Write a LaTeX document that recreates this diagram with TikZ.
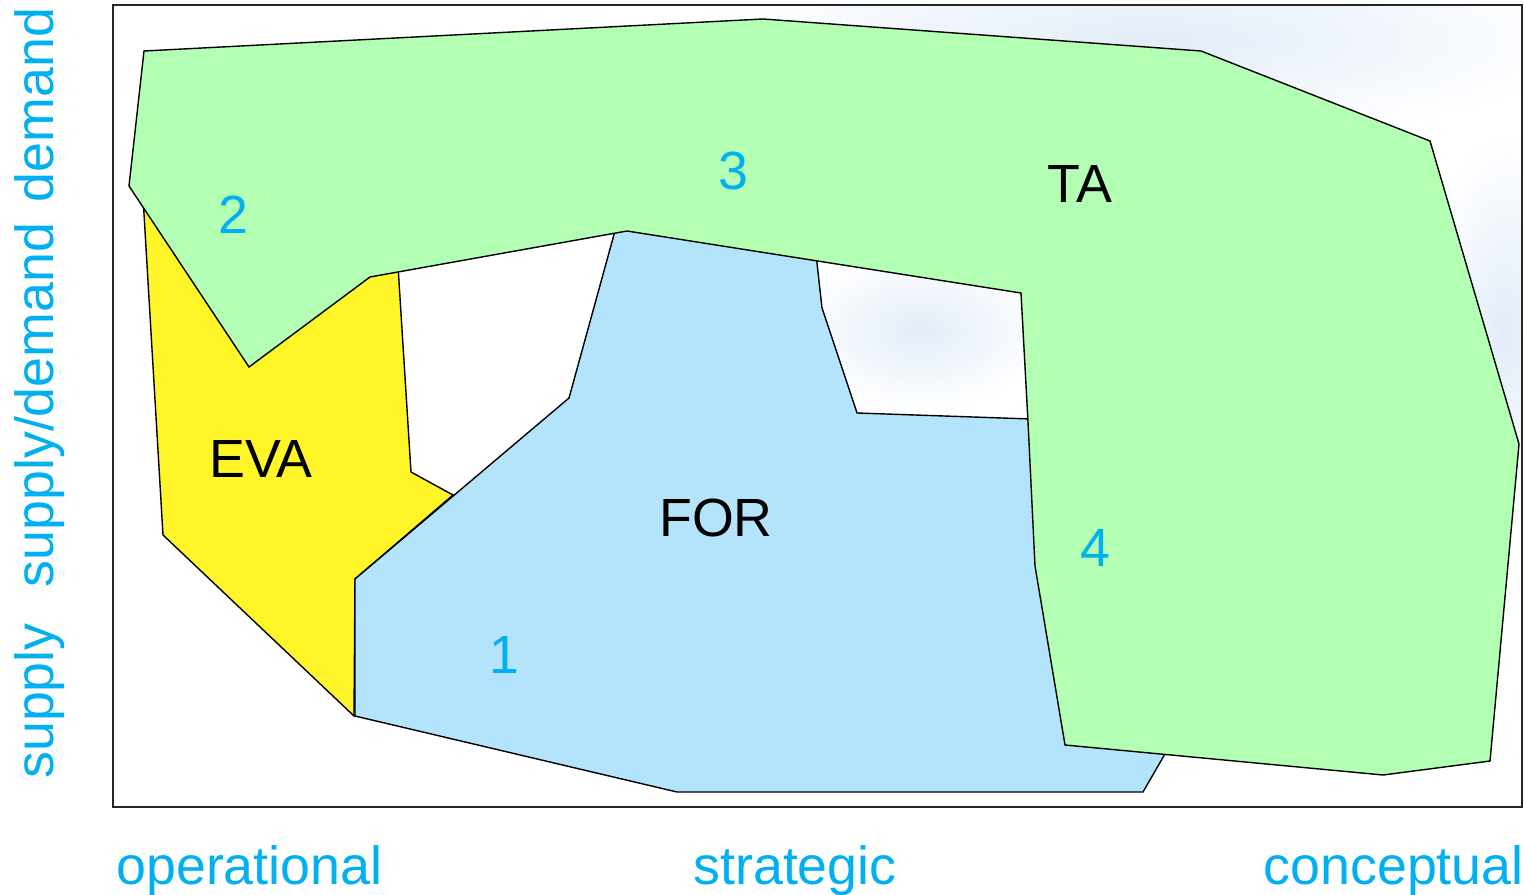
\documentclass[tikz,border=0pt]{standalone}
\usepackage{fontspec}
\setmainfont{Liberation Sans}
\definecolor{labelblue}{RGB}{0,176,240}
\definecolor{evayellow}{RGB}{255,245,40}
\definecolor{forblue}{RGB}{180,228,252}
\definecolor{tagreen}{RGB}{179,255,179}
\definecolor{cloud}{RGB}{226,236,248}

\begin{document}
\begin{tikzpicture}[x=0.02cm, y=-0.02cm]
	\tikzstyle{every node} = [font=\fontsize{30.6}{35}\selectfont, inner sep=0pt]
	\tikzstyle{area} = [draw=black, line width=0.8pt]
	\tikzstyle{num} = [text=labelblue]
	\tikzstyle{axis} = [text=labelblue, anchor=base]
	\tikzstyle{puff} = [inner color=cloud, outer color=white]
	\useasboundingbox (0,0) rectangle (1524,895);
	% cloudy background
	\begin{scope}
		\clip (113,5) rectangle (1522,807);
		\shade[puff] (1150,40) ellipse (450 and 100);
		\shade[puff] (1505,330) ellipse (80 and 200);
		\shade[puff] (920,330) ellipse (130 and 80);
	\end{scope}
	\draw[line width=1.1pt, draw=black!85] (113,5) rectangle (1522,807);
	% areas
	\filldraw[area, fill=evayellow] (142,180) -- (163,535) -- (354,716) -- (355,579) -- (453,495) -- (411,472) -- (397,250) -- cycle;
	\filldraw[area, fill=forblue] (355,579) -- (569,398) -- (618,220) -- (815,245) -- (822,308) -- (857,413) -- (1060,420) -- (1173,740) -- (1143,792) -- (677,792) -- (355,716) -- cycle;
	\filldraw[area, fill=tagreen] (144,51) -- (763,19) -- (1201,51) -- (1430,141) -- (1519,444) -- (1490,761) -- (1383,775) -- (1065,745) -- (1035,566) -- (1028,422) -- (1021,293) -- (627,231) -- (370,277) -- (249,367) -- (129,186) -- cycle;
	% labels
	\node (eva) at (261,459) {EVA};
	\node (for) at (716,518) {FOR};
	\node (ta) at (1080,184) {TA};
	\node[num] (1) at (504,655) {1};
	\node[num] (2) at (233,215) {2};
	\node[num] (3) at (733,171) {3};
	\node[num] (4) at (1095,548) {4};
	% axes
	\node[axis, anchor=base west] (operational) at (116,884) {operational};
	\node[axis] (strategic) at (795,884) {strategic};
	\node[axis, anchor=base east] (conceptual) at (1524,884) {conceptual};
	\node[axis, rotate=90] (supply) at (53,701) {supply};
	\node[axis, rotate=90] (supplydemand) at (53,405) {supply/demand};
	\node[axis, rotate=90] (demand) at (53,105) {demand};
\end{tikzpicture}
\end{document}
